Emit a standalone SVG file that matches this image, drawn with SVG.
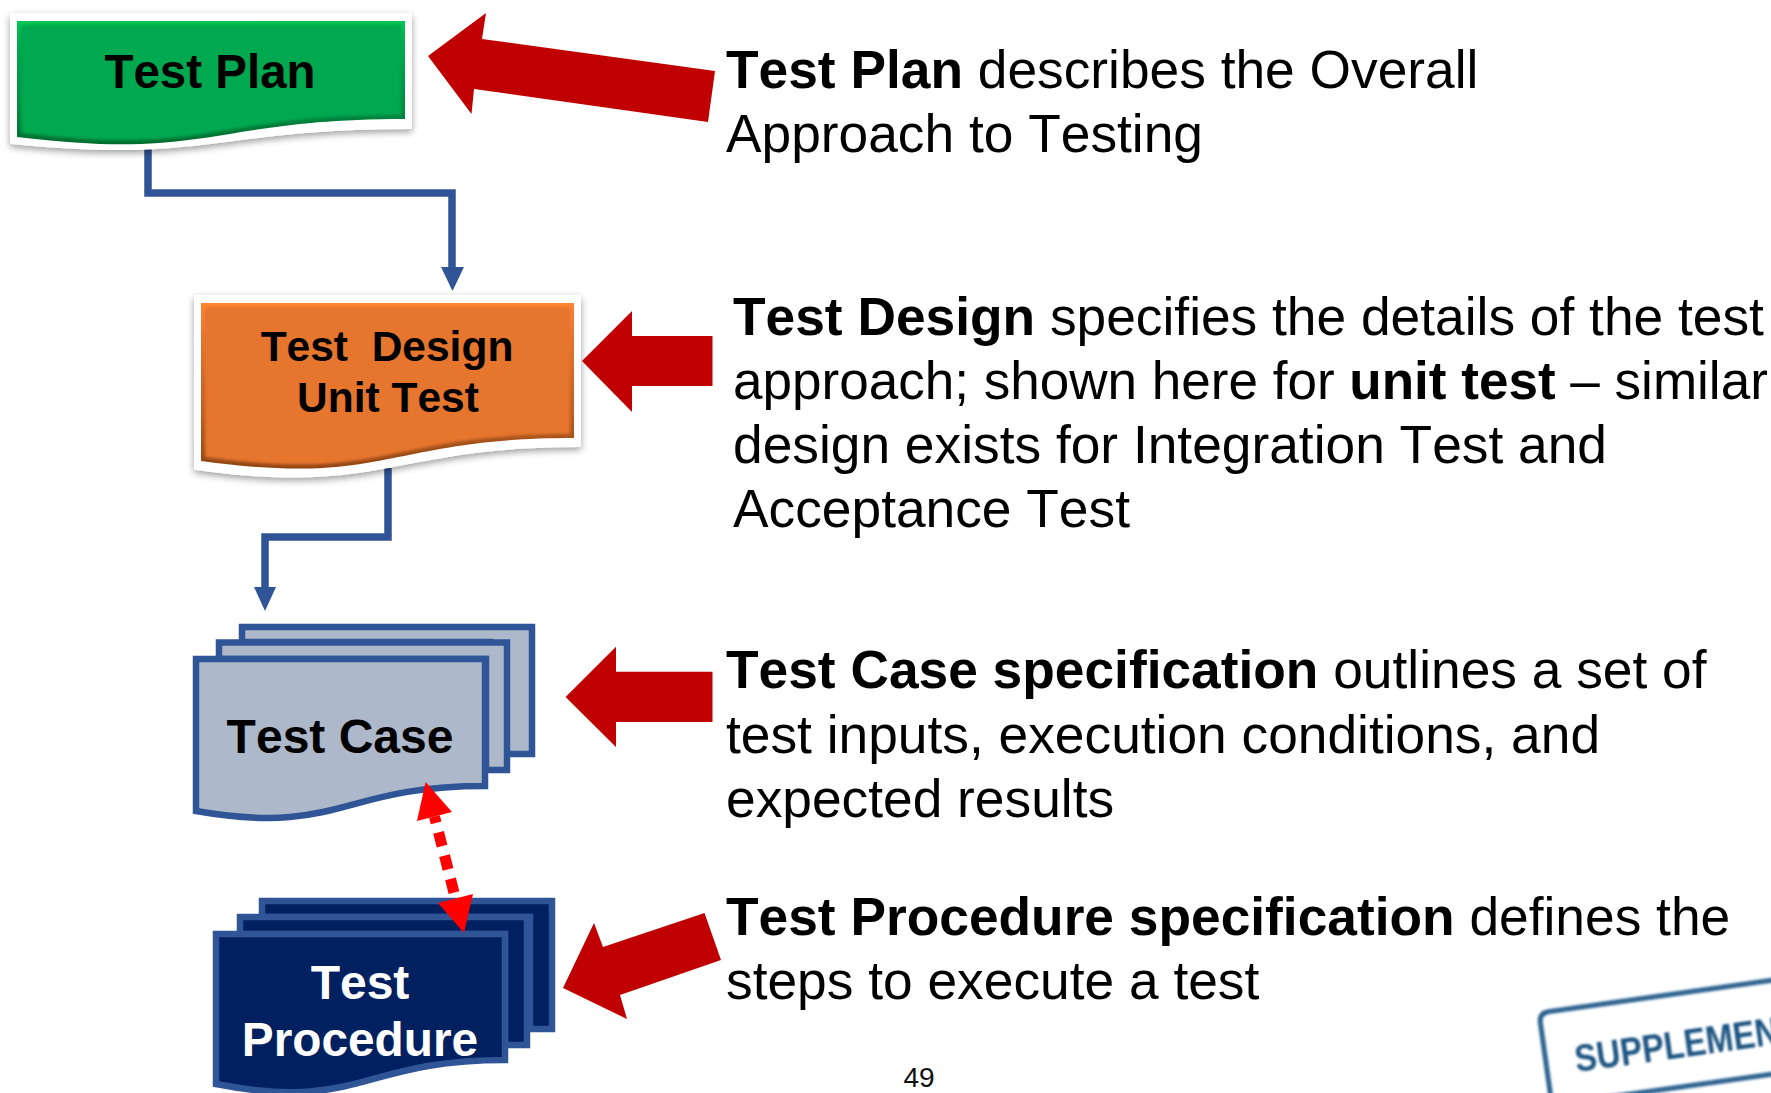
<svg xmlns="http://www.w3.org/2000/svg" width="1771" height="1093" viewBox="0 0 1771 1093">
<style>
text{font-family:"Liberation Sans",Arial,sans-serif;font-kerning:none}
.b{font-weight:bold}
.desc{font-size:53.300px;fill:#000}
.lbl{font-weight:bold;text-anchor:middle;fill:#000}
.conn{fill:none;stroke:#2F5597;stroke-width:7.5;stroke-linejoin:miter}
.head{fill:#2F5597}
.call{fill:#C00000}
.shell{fill:#fff;stroke:#fff;stroke-width:4;stroke-linejoin:round;filter:url(#sh)}
.tc{fill:#ADB9CA;stroke:#2F5597;stroke-width:6.5}
.tp{fill:#002060;stroke:#2F5597;stroke-width:6.5}
</style>
<defs>
<filter id="sh" x="-10%" y="-10%" width="120%" height="125%"><feDropShadow dx="0" dy="3" stdDeviation="3.5" flood-color="#000" flood-opacity=".38"/></filter>
<filter id="soft" x="-5%" y="-5%" width="110%" height="110%"><feGaussianBlur stdDeviation="1.6"/></filter>
<filter id="blur" x="-5%" y="-5%" width="110%" height="110%"><feGaussianBlur stdDeviation=".8"/></filter>
<linearGradient id="gEdge" x1="0" y1="0" x2="0" y2="1"><stop offset="0" stop-color="#00C853"/><stop offset=".2" stop-color="#00A850"/><stop offset=".7" stop-color="#008A42"/><stop offset="1" stop-color="#006B30"/></linearGradient>
<linearGradient id="oEdge" x1="0" y1="0" x2="0" y2="1"><stop offset="0" stop-color="#FF8533"/><stop offset=".2" stop-color="#E6752E"/><stop offset=".7" stop-color="#B85C20"/><stop offset="1" stop-color="#8F4513"/></linearGradient>
</defs>

<g id="connectors">
<path class="conn" d="M148,148V193H452V268"/>
<polygon class="head" points="441,267 464,267 452.500,291"/>
<path class="conn" d="M388,468V537H265V588"/>
<polygon class="head" points="254,587 276,587 265,611"/>
</g>

<g id="test-plan">
<path class="shell" d="M12,15H410V127C211,127 211,161.700 12,142Z"/>
<path fill="url(#gEdge)" d="M17,21H405V119C211,119 211,160.700 17,137Z"/>
<path fill="#00A850" filter="url(#soft)" d="M21,25H401V115C211,115 211,156.700 21,133Z"/>
<text class="lbl" x="210" y="88" font-size="47.500">Test Plan</text>
</g>

<g id="test-design">
<path class="shell" d="M196,297H579V445C387,445 387,494 196,468Z"/>
<path fill="url(#oEdge)" d="M201,303H574V438C387,438 387,487 201,461Z"/>
<path fill="#E6752E" filter="url(#soft)" d="M205,307H570V434C387,434 387,483 205,457Z"/>
<text class="lbl" x="387" y="361" font-size="42.500" xml:space="preserve">Test  Design</text>
<text class="lbl" x="388" y="412" font-size="42.500">Unit Test</text>
</g>

<g id="test-case">
<path class="tc" d="M242,627H532V754H490V642H242Z"/>
<path class="tc" d="M219,642.500H507V770H486V659H219Z"/>
<path class="tc" d="M196,659H485V786C340,786 340,836 196,811Z"/>
<text class="lbl" x="340" y="753" font-size="48">Test Case</text>
</g>

<g id="test-procedure">
<path class="tp" d="M262,901H552V1029H530V917H262Z"/>
<path class="tp" d="M240,917H527V1045H505V934H240Z"/>
<path class="tp" d="M216,934H505V1060C360,1060 360,1112 216,1084Z"/>
<text class="lbl" x="360" y="999" font-size="48" style="fill:#fff">Test</text>
<text class="lbl" x="360" y="1056" font-size="47.800" style="fill:#fff">Procedure</text>
</g>

<g id="double-arrow">
<path d="M434.500,816.500L455.500,898.500" fill="none" stroke="#F00" stroke-width="11" stroke-dasharray="14 10" stroke-dashoffset="7.500"/>
<polygon fill="#F00" points="425.600,782 452,812 417,821"/>
<polygon fill="#F00" points="464,933 438,903 473,894"/>
</g>

<g id="callout-arrows">
<polygon class="call" points="428,56 486,13 482,39 715,71 708,122 474,89 471.500,114"/>
<polygon class="call" points="582,361 632,311 632,336 712.500,336 712.500,386 632,386 632,412"/>
<polygon class="call" points="565.600,697 616,646.700 616,671.700 712.500,671.700 712.500,722 616,722 616,747"/>
<polygon class="call" points="563,988 594,923 603,947 704.500,913 721,960 620,995 627,1019"/>
</g>

<g id="descriptions">
<text class="desc" x="726" y="88"><tspan class="b">Test Plan</tspan> describes the Overall</text>
<text class="desc" x="726" y="152">Approach to Testing</text>
<text class="desc" x="733" y="334.500"><tspan class="b">Test Design</tspan> specifies the details of the test</text>
<text class="desc" x="733" y="399" style="font-size:53.050px">approach; shown here for <tspan class="b">unit test</tspan> – similar</text>
<text class="desc" x="733" y="463">design exists for Integration Test and</text>
<text class="desc" x="733" y="527">Acceptance Test</text>
<text class="desc" x="726" y="688"><tspan class="b">Test Case specification</tspan> outlines a set of</text>
<text class="desc" x="726" y="752.500">test inputs, execution conditions, and</text>
<text class="desc" x="726" y="817">expected results</text>
<text class="desc" x="726" y="934.500"><tspan class="b">Test Procedure specification</tspan> defines the</text>
<text class="desc" x="726" y="999">steps to execute a test</text>
</g>

<text id="page-number" x="919" y="1087" font-size="28" text-anchor="middle" fill="#111">49</text>

<g id="stamp" filter="url(#blur)" transform="translate(1539 1013) rotate(-8)">
<path d="M0,100V10Q0,0 10,0H300M0,93H300" fill="none" stroke="#2F6390" stroke-width="5"/>
<text transform="translate(29 64) scale(.87 1)" font-size="38" font-weight="bold" fill="#1F5482">SUPPLEMEN</text>
</g>
</svg>
